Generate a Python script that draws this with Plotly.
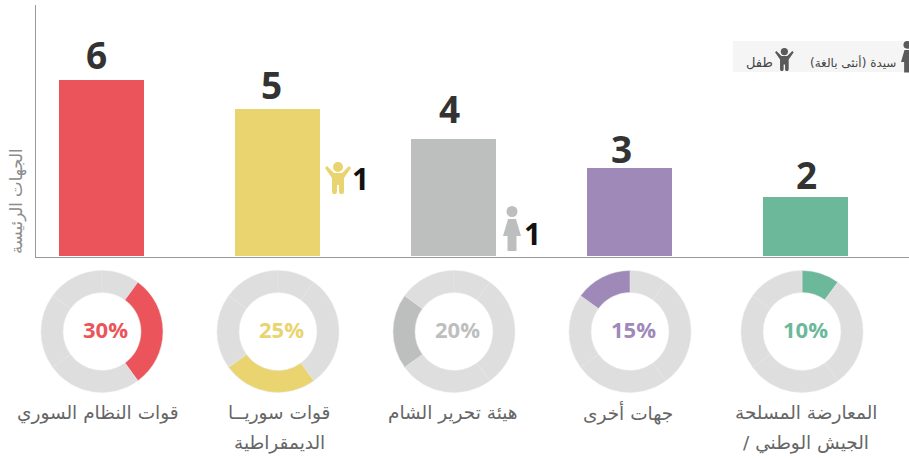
import plotly.graph_objects as go

W, H = 909, 459

categories = ["قوات النظام السوري", "قوات سوريــا", "هيئة تحرير الشام", "جهات أخرى", "المعارضة المسلحة"]
categories_line2 = ["", "الديمقراطية", "", "", "/ الجيش الوطني"]
bar_values = [6, 5, 4, 3, 2]
shares = [30, 25, 20, 15, 10]
colors = ["#EB545A", "#E9D46F", "#BDBFBE", "#9F89B8", "#6BB99A"]
pie_order = [4, 0, 1, 2, 3]
y_title = "الجهات الرئيسة"
legend_woman = "سيدة (أنثى بالغة)"
legend_child = "طفل"
ARABIC = "DejaVu Sans"
NUM = "Open Sans"
GREY = "#DEDEDE"


def px(x):
    return x / W


def py(y):
    return 1 - y / H


fig = go.Figure()
fig.add_bar(x=list(range(5)), y=bar_values, width=85 / 176, marker=dict(color=colors, line_width=0),
            hoverinfo="skip", showlegend=False)

centers_x = [102, 278, 454, 630, 802]
cy, R = 331.5, 61
for i, cx in enumerate(centers_x):
    fig.add_pie(values=[shares[k] for k in pie_order],
                marker=dict(colors=[colors[i] if k == i else GREY for k in pie_order],
                            line=dict(color="#E6E6E6", width=0.5)),
                sort=False, direction="clockwise", rotation=0, hole=39 / 61, textinfo="none",
                hoverinfo="skip", showlegend=False,
                domain=dict(x=[px(cx - R), px(cx + R)], y=[py(cy + R), py(cy - R)]))


def ann(x, y, text, size, color, family=ARABIC, **kw):
    return dict(x=px(x), y=py(y), xref="paper", yref="paper", text=text, showarrow=False, xanchor="center",
                yanchor="middle", font=dict(size=size, color=color, family=family), **kw)


label_x = [98, 279, 453, 628, 806]
value_dx = [-4, -5, -3, -7, 2]
value_dy = [2, 3, -3, 8, 5]
annotations = []
for i, v in enumerate(bar_values):
    annotations.append(dict(x=i, y=v, xref="x", yref="y", text=f"<b>{v}</b>", showarrow=False, yanchor="bottom",
                            xanchor="center", xshift=value_dx[i], yshift=-value_dy[i],
                            font=dict(size=37, color="#333333", family=NUM)))
    annotations.append(ann(centers_x[i] + 3, 329, f"<b>{shares[i]}%</b>", 22, colors[i], NUM))
    annotations.append(ann(label_x[i], 413, categories[i], 18.5, "#666666"))
    if categories_line2[i]:
        annotations.append(ann(label_x[i], 443, categories_line2[i], 18.5, "#666666"))
annotations += [
    ann(360, 178, "<b>1</b>", 30, "#111111", NUM),
    ann(532, 234, "<b>1</b>", 30, "#111111", NUM),
    ann(17, 201, y_title, 16.5, "#8C8C8C", textangle=-90),
    ann(853, 62, legend_woman, 12, "#444444"),
    ann(759.5, 62, legend_child, 13, "#444444"),
]


def circle(cx, cy_, r, color):
    return dict(type="circle", xref="paper", yref="paper", x0=px(cx - r), x1=px(cx + r), y0=py(cy_ + r),
                y1=py(cy_ - r), fillcolor=color, line_width=0)


def poly(points, color):
    d = "M" + "L".join(f"{px(x):.5f},{py(y):.5f}" for x, y in points) + "Z"
    return dict(type="path", xref="paper", yref="paper", path=d, fillcolor=color, line_width=0)


def child(x, y, s, color):
    f = lambda pts: [(x + a * s, y + b * s) for a, b in pts]
    return [circle(x + 13 * s, y + 5 * s, 5 * s, color),
            poly(f([(0, 6), (2, 4), (9, 11), (17, 11), (24, 4), (26, 6), (19, 16), (19, 30), (18, 32), (15, 32),
                    (14, 30), (14, 23), (12, 23), (12, 30), (11, 32), (8, 32), (7, 30), (7, 16)]), color)]


def woman(x, y, s, color):
    f = lambda pts: [(x + a * s, y + b * s) for a, b in pts]
    return [circle(x + 9 * s, y + 5.5 * s, 5.5 * s, color),
            poly(f([(5, 13), (13, 13), (18, 30), (13.5, 30), (13.5, 45), (4.5, 45), (4.5, 30), (0, 30)]), color)]


shapes = [dict(type="rect", xref="paper", yref="paper", x0=px(733), x1=1, y0=py(72), y1=py(41),
               fillcolor="#F5F5F5", line_width=0, layer="below")]
shapes += child(325, 162, 1, colors[1])
shapes += woman(503, 206, 1, colors[2])
shapes += child(775, 48, 0.72, "#5A5A5A")
shapes += woman(901, 41, 0.7, "#5A5A5A")

fig.update_layout(
    width=W, height=H, margin=dict(l=0, r=0, t=0, b=0), paper_bgcolor="white", plot_bgcolor="white",
    bargap=0, annotations=annotations, shapes=shapes,
    xaxis=dict(domain=[35.5 / W, 1], range=[-0.37, 4.593], showgrid=False, zeroline=False, showticklabels=False,
               ticks="", showline=True, linecolor="#999999", linewidth=1),
    yaxis=dict(domain=[py(257), py(5)], range=[-0.03, 8.56], showgrid=False, zeroline=False, showticklabels=False,
               ticks="", showline=True, linecolor="#999999", linewidth=1),
)
fig.write_html("out.html", config=dict(displayModeBar=False),
               post_script="document.body.style.margin='0';document.body.style.overflow='hidden';")
